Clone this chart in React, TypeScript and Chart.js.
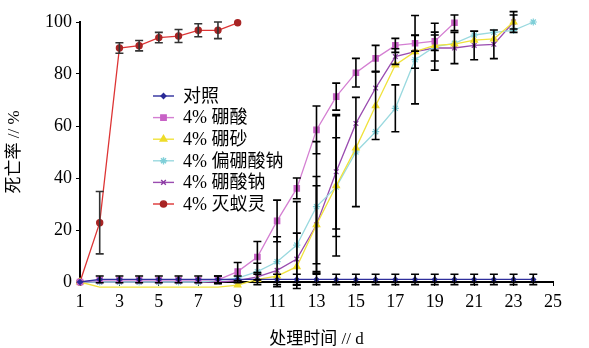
import React, { useEffect, useRef } from 'react';
import { Chart, registerables } from 'chart.js';
import { drawPoint } from 'chart.js/helpers';

Chart.register(...registerables);

// ---------- data ----------
const days = [1, 2, 3, 4, 5, 6, 7, 8, 9, 10, 11, 12, 13, 14, 15, 16, 17, 18, 19, 20, 21, 22, 23, 24];

const seriesLabels = ['对照', '4% 硼酸', '4% 硼砂', '4% 偏硼酸钠', '4% 硼酸钠', '4% 灭蚁灵'];

const controlValues = [0, 1, 1, 1, 1, 1, 1, 1, 1, 1, 1, 1, 1, 1, 1, 1, 1, 1, 1, 1, 1, 1, 1, 1];
const controlErrors = [0, 1.3, 1.3, 1.3, 1.3, 1.3, 1.3, 1.3, 1.3, 2, 2, 2, 2, 2, 2, 2, 2, 2, 2, 2, 2, 2, 2, 2];

const boricAcidValues = [0, 0.7, 0.7, 0.7, 0.7, 0.7, 0.7, 0.8, 4, 9.6, 23.5, 36, 58.5, 71.3, 80.5, 86, 91, 91.8, 92.6, 99.7];
const boricAcidErrors = [0, 0, 0, 0, 0, 0, 0, 1.5, 3.5, 6, 8, 4, 9.2, 5.2, 5.5, 5, 2.7, 3, 3.5, 3];

const boraxValues = [0, -2, -2, -2, -2, -2, -2, -2, -1.2, 1, 2.3, 5.9, 22, 37, 51.5, 67.8, 83.5, 88.6, 91, 91.5, 93, 93.5, 100];
const boraxErrors = [0, 0, 0, 0, 0, 0, 0, 0, 0, 0, 0, 0, 18.6, 27, 0, 13, 0, 0, 0, 0, 0, 0, 4];

const metaborateValues = [0, 0, 0, 0, 0, 0, 0, 0.5, 1.5, 4, 7.8, 14.2, 29, 36.5, 50, 57.8, 66.8, 85.5, 90.5, 91.8, 95, 96, 96.8, 100];
const metaborateErrors = [0, 0, 0, 0, 0, 0, 0, 0, 0, 3.2, 9.6, 16.7, 25, 19, 21, 0, 9, 17, 9, 0, 0, 0, 0, 0];

const sodiumBorateValues = [0, 0, 0, 0, 0, 0, 0, 0, 0.5, 2, 4.5, 8.8, 22, 42.4, 61, 74.6, 86.7, 88.6, 90, 90, 91, 91.4, 100];
const sodiumBorateErrors = [0, 0, 0, 0, 0, 0, 0, 0, 0, 0, 0, 10, 15, 22, 0, 0, 3, 6.4, 5, 6, 5.5, 5.5, 2.7];

const mirexValues = [0, 22.8, 90, 90.9, 94, 94.6, 96.8, 96.8, 99.7];
const mirexErrors = [0, 12, 2, 2, 2, 2.5, 2.5, 3.2, 0];

const yTickMin = 0;
const yTickMax = 100;
const yTickStep = 20;
const xTickMin = 1;
const xTickMax = 25;
const xTickStep = 2;

// ---------- styles ----------
const FONT = "'Liberation Serif', 'Noto Sans CJK SC', serif";

const styles = [
  { line: '#2e2e9c', point: '#2a2a96', style: 'rectRot', radius: 2.4 },
  { line: '#d47fd2', point: '#c862c6', style: 'rect', radius: 3.8 },
  { line: '#f0e23c', point: '#eedc2a', style: 'triangle', radius: 3.8 },
  { line: '#9ad9df', point: '#7fcfd8', style: 'star', radius: 3.6 },
  { line: '#9a4cb0', point: '#8c3aa4', style: 'crossRot', radius: 3.3 },
  { line: '#dd3434', point: '#a82424', style: 'circle', radius: 3.1 },
];

const allValues = [controlValues, boricAcidValues, boraxValues, metaborateValues, sodiumBorateValues, mirexValues];
const allErrors = [controlErrors, boricAcidErrors, boraxErrors, metaborateErrors, sodiumBorateErrors, mirexErrors];

const errorBarPlugin = {
  id: 'errorBars',
  afterDatasetsDraw(chart: any) {
    const ctx = chart.ctx;
    const xs = chart.scales.x;
    const ys = chart.scales.y;
    chart.data.datasets.forEach((ds: any) => {
      const errs: number[] = ds.errors || [];
      ctx.save();
      ctx.strokeStyle = ds.errorColor || '#000';
      ctx.lineWidth = 1.6;
      ds.data.forEach((p: any, j: number) => {
        const e = errs[j];
        if (!e) return;
        const x = xs.getPixelForValue(p.x);
        const yt = ys.getPixelForValue(p.y + e);
        const yb = ys.getPixelForValue(p.y - e);
        ctx.beginPath();
        ctx.moveTo(x, yt);
        ctx.lineTo(x, yb);
        ctx.moveTo(x - 4, yt);
        ctx.lineTo(x + 4, yt);
        ctx.moveTo(x - 4, yb);
        ctx.lineTo(x + 4, yb);
        ctx.stroke();
      });
      ctx.restore();
    });
  },
};

const legendPlugin = {
  id: 'insideLegend',
  afterDraw(chart: any) {
    const ctx = chart.ctx;
    chart.data.datasets.forEach((ds: any, i: number) => {
      const y = 96 + i * 21.6;
      ctx.save();
      ctx.strokeStyle = ds.borderColor;
      ctx.lineWidth = 1.4;
      ctx.beginPath();
      ctx.moveTo(153, y);
      ctx.lineTo(174, y);
      ctx.stroke();
      ctx.fillStyle = ds.pointBackgroundColor;
      ctx.strokeStyle = ds.pointBorderColor;
      drawPoint(ctx, { pointStyle: ds.pointStyle, rotation: 0, radius: ds.pointRadius, borderWidth: 1.2 }, 163.5, y);
      ctx.fillStyle = '#000';
      ctx.font = `18px ${FONT}`;
      ctx.textBaseline = 'middle';
      ctx.textAlign = 'left';
      ctx.fillText(ds.label, 183, y + 1);
      ctx.restore();
    });
  },
};

export default function App() {
  const ref = useRef<HTMLCanvasElement | null>(null);

  useEffect(() => {
    if (!ref.current) return;
    const datasets = allValues.map((vals, i) => ({
      label: seriesLabels[i],
      data: vals.map((v, j) => ({ x: days[j], y: v })),
      borderColor: styles[i].line,
      backgroundColor: styles[i].point,
      pointBackgroundColor: styles[i].point,
      pointBorderColor: styles[i].point,
      pointStyle: styles[i].style,
      pointRadius: styles[i].radius,
      pointBorderWidth: 1.2,
      borderWidth: 1.3,
      tension: 0,
      clip: false,
      errors: allErrors[i],
      errorColor: i === 5 ? '#333' : '#000',
    }));

    const chart = new Chart(ref.current, {
      type: 'line',
      data: { datasets },
      plugins: [errorBarPlugin, legendPlugin],
      options: {
        animation: false,
        responsive: false,
        layout: { padding: { top: 22, right: 36, left: 0, bottom: 0 } },
        plugins: { legend: { display: false }, tooltip: { enabled: false } },
        scales: {
          x: {
            type: 'linear',
            min: xTickMin,
            max: xTickMax,
            ticks: {
              stepSize: xTickStep,
              color: '#000',
              font: { family: FONT, size: 18 },
              padding: 5,
              maxRotation: 0,
            },
            grid: { display: true, drawOnChartArea: false, drawTicks: true, tickLength: 4, color: '#000' },
            border: { display: true, color: '#000', width: 2 },
            title: {
              display: true,
              text: '处理时间 // d',
              color: '#000',
              font: { family: FONT, size: 17, lineHeight: 1 },
              padding: { top: 0, bottom: 0 },
            },
            afterFit: (s: any) => {
              s.height = 66;
            },
          },
          y: {
            type: 'linear',
            min: yTickMin,
            max: yTickMax,
            ticks: {
              stepSize: yTickStep,
              color: '#000',
              font: { family: FONT, size: 18 },
              padding: 4,
            },
            grid: { display: true, drawOnChartArea: false, drawTicks: true, tickLength: 4, color: '#000' },
            border: { display: true, color: '#000', width: 2 },
            title: {
              display: true,
              text: '死亡率 // %',
              color: '#000',
              font: { family: FONT, size: 17, lineHeight: 1.2 },
              padding: { top: 4, bottom: 0 },
            },
            afterFit: (s: any) => {
              s.width = 80;
            },
          },
        },
      },
    } as any);
    return () => chart.destroy();
  }, []);

  return (
    <div style={{ position: 'absolute', left: 0, top: 0, width: 589, height: 348, background: '#fff' }}>
      <canvas ref={ref} width={589} height={348} style={{ display: 'block' }} />
    </div>
  );
}
